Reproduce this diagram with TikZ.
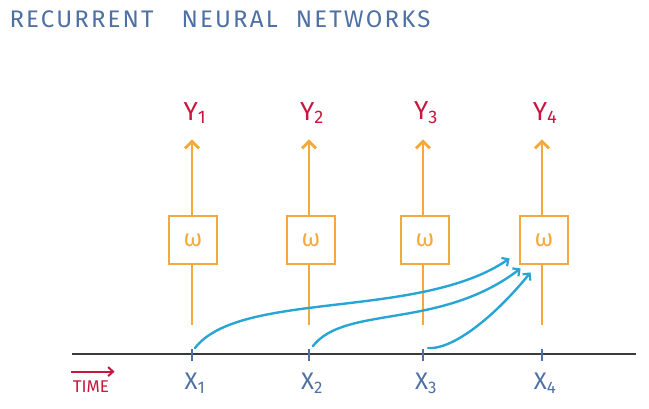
\documentclass[tikz,border=0pt]{standalone}
\usepackage{fontspec}
\setmainfont{Fira Sans}
\newfontfamily\handfont[LetterSpace=9]{Fira Sans}
\usetikzlibrary{arrows.meta, positioning}
\definecolor{rnblue}{HTML}{4E70A3}
\definecolor{rnred}{HTML}{C8163F}
\definecolor{rnorange}{HTML}{F4AA3A}
\definecolor{rncyan}{HTML}{27A6D6}
\definecolor{rngray}{HTML}{3A3A3A}

\begin{document}
\begin{tikzpicture}[x=1pt, y=-1pt]
  \useasboundingbox (0,0) rectangle (649,409);
  \tikzset{
    wbox/.style={draw=rnorange, line width=2.8pt, minimum size=48pt, inner sep=0pt,
      text=rnorange, font=\fontsize{24}{24}\selectfont},
    ylab/.style={text=rnred, font=\fontsize{26}{26}\selectfont},
    xlab/.style={text=rnblue, font=\fontsize{24}{24}\selectfont},
    upflow/.style={draw=rnorange, line width=2.8pt, -{Straight Barb[length=7pt, width=14pt, line width=2.8pt]}},
    inflow/.style={draw=rnorange, line width=2.8pt},
    recur/.style={draw=rncyan, line width=2.4pt, line cap=round,
      -{Straight Barb[length=5pt, width=10pt, line width=2.2pt]}}
  }

  %% Title
  \node[anchor=west, text=rnblue, font=\handfont\fontsize{24}{24}\selectfont] (title) at (6,19)
    {RECURRENT\hspace{28pt}NEURAL\hspace{18pt}NETWORKS};

  %% Time axis
  \coordinate (axl) at (72,354);
  \coordinate (axr) at (636,354);
  \draw[rngray, line width=2.8pt] (axl) -- (axr);

  %% Cells, outputs and inputs
  \foreach \i/\xpos/\bx in {1/192/193, 2/309/311, 3/423/425, 4/542/544}{
    \node[wbox] (w\i) at (\bx,240) {ω};
    \node[ylab] (y\i) at (\xpos+3,113) {Y\textsubscript{\i}};
    \node[xlab] (x\i) at (\xpos+3,383) {X\textsubscript{\i}};
    \coordinate (t\i) at (\xpos,348);
    \coordinate (f\i) at (\xpos,325);
    \draw[upflow] (w\i.north -| f\i) -- ([yshift=-12pt]y\i.south -| f\i);
    \draw[inflow] (w\i.south -| f\i) -- (f\i);
    \draw[rnblue, line width=2.2pt] ([yshift=5pt]\xpos,354) -- ([yshift=-7pt]\xpos,354);
  }

  %% Recurrent links into the last cell
  \draw[recur] ([xshift=3pt]t1) .. controls (240,290) and (420,320) .. ([xshift=-9pt, yshift=7pt]w4.south west);
  \draw[recur] ([xshift=4pt,yshift=2pt]t2) .. controls (345,305) and (440,330) .. ([xshift=2pt, yshift=-3pt]w4.south west);
  \draw[recur] ([xshift=5pt]t3) .. controls (450,350) and (490,322) .. ([xshift=12pt, yshift=-7pt]w4.south west);

  %% Time label
  \node[text=rnred, font=\fontsize{17}{17}\selectfont] (time) at (91,387) {TIME};
  \draw[rnred, line width=2.2pt, -{Straight Barb[length=5pt, width=9pt, line width=2pt]}]
    ([yshift=6pt, xshift=2pt]time.north west) -- ([yshift=6pt, xshift=2pt]time.north east);

\end{tikzpicture}
\end{document}
